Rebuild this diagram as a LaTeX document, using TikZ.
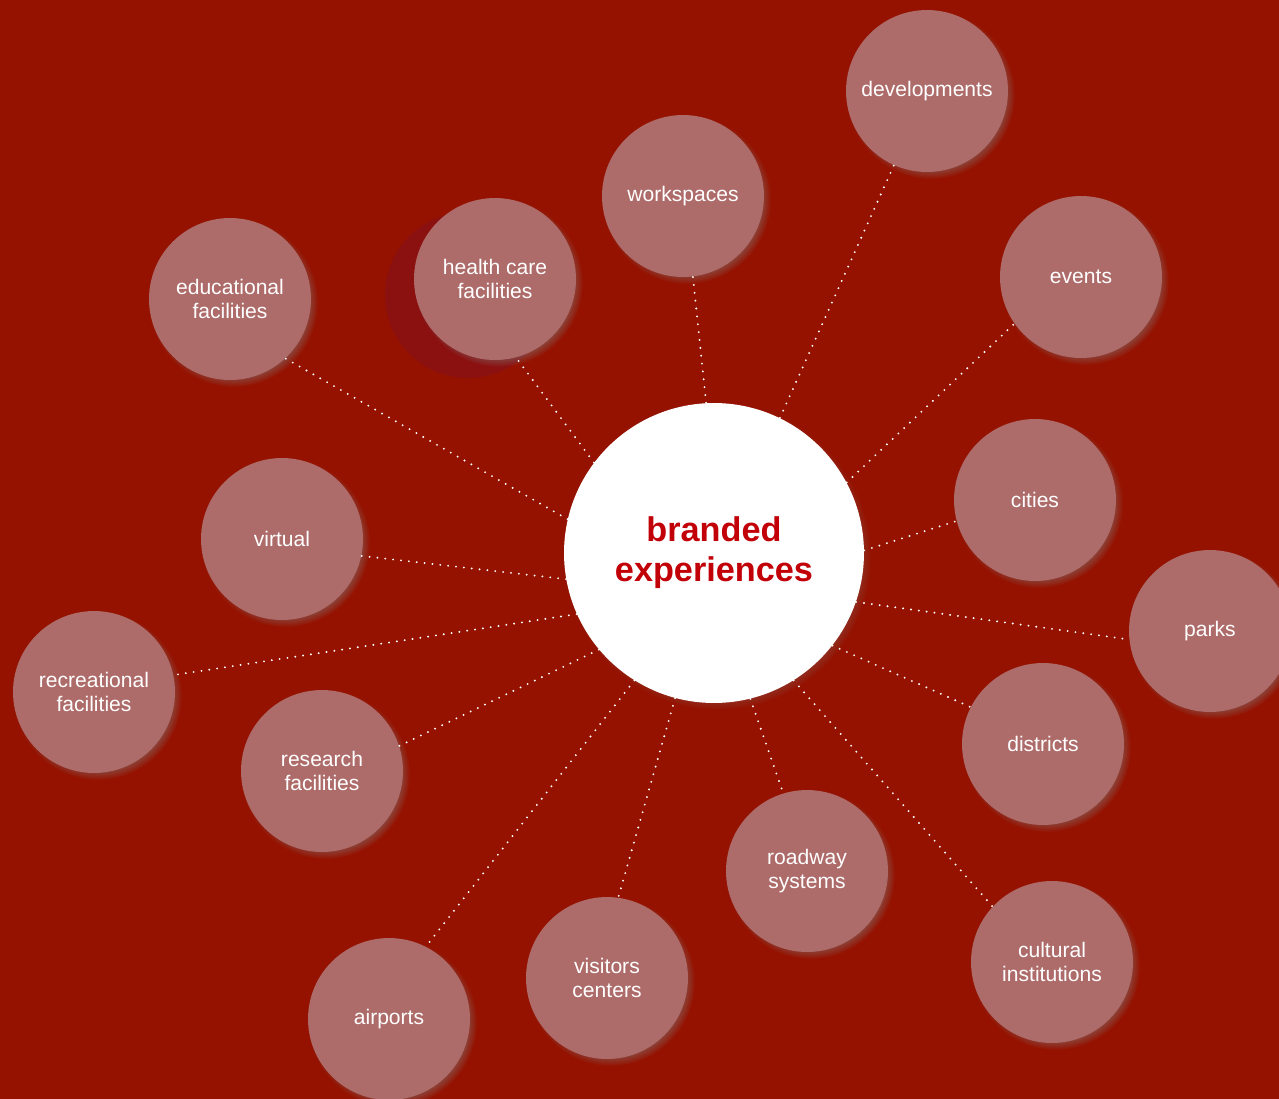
\documentclass[tikz,border=0pt]{standalone}
\usepackage{fontspec}
\setmainfont{Liberation Sans}
\usetikzlibrary{positioning, shadows}
\definecolor{bgred}{HTML}{951200}
\definecolor{blobred}{HTML}{8B1010}
\definecolor{bubblefill}{HTML}{AD6B69}
\definecolor{hubred}{HTML}{C20008}
\tikzset{
x=0.02cm, y=-0.02cm, % pixel grid of the reference
bubble/.style={circle, fill=bubblefill, minimum size=3.24cm, inner sep=0pt, align=center,
  text=white, font=\fontsize{12}{13.7}\selectfont,
  circular drop shadow={shadow xshift=2pt, shadow yshift=-2pt, shadow scale=1.04, opacity=0.6}}, % the outer circles
hub/.style={circle, fill=white, minimum size=6cm, inner sep=0pt, align=center,
  text=hubred, font=\fontsize{19.5}{22.8}\selectfont\bfseries,
  circular drop shadow={shadow xshift=2pt, shadow yshift=-2pt, shadow scale=1.02, opacity=0.6}}, % the centre
link/.style={white, line width=1.2pt, line cap=round, dash pattern=on 0pt off 4.5pt}, % dotted spokes
}
\begin{document}
\begin{tikzpicture}
                \useasboundingbox (0,0) rectangle (1279,1099);
                \fill[bgred] (0,0) rectangle (1279,1099);
                \fill[blobred] (468,295) circle (1.66cm);
                \node[hub] (hub) at (714,553) {branded\\experiences};
                \node[bubble] (dev) at (927,91) {developments};
                \node[bubble] (work) at (683,196) {workspaces};
                \node[bubble] (health) at (495,279) {health care\\facilities};
                \node[bubble] (edu) at (230,299) {educational\\facilities};
                \node[bubble] (events) at (1081,277) {events};
                \node[bubble] (cities) at (1035,500) {cities};
                \node[bubble] (parks) at (1210,631) {parks};
                \node[bubble] (districts) at (1043,744) {districts};
                \node[bubble] (cultural) at (1052,962) {cultural\\institutions};
                \node[bubble] (roadway) at (807,871) {roadway\\systems};
                \node[bubble] (visitors) at (607,978) {visitors\\centers};
                \node[bubble] (airports) at (389,1019) {airports};
                \node[bubble] (research) at (322,771) {research\\facilities};
                \node[bubble] (recreation) at (94,692) {recreational\\facilities};
                \node[bubble] (virtual) at (282,539) {virtual};
                % spokes: node / angle on the hub / angle on the bubble
                \foreach \n/\a/\b in {dev/64.6/-114.7, work/93/-83.5, health/143.1/-75.6,
                    edu/167.5/-47.1, events/28.9/-145.5, cities/1.9/-165.8, parks/-19.4/-174.6,
                    districts/-38.7/153.4, cultural/-58.3/137.8, roadway/-76.5/107.1,
                    visitors/-105.4/82.5, airports/-122.3/63.7, research/-140.3/18.7,
                    recreation/-156.6/12.6, virtual/-170.7/-12}
                    \draw[link] (hub.\a) -- (\n.\b);
\end{tikzpicture}
\end{document}
